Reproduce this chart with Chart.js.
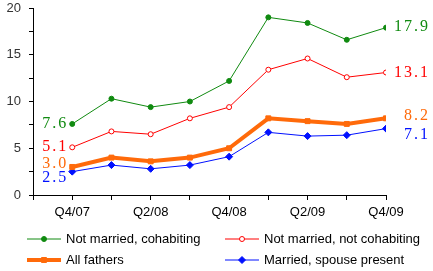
<!DOCTYPE html>
<html>
<head>
<meta charset="utf-8">
<script src="https://cdn.jsdelivr.net/npm/chart.js@4"></script>
<style>
  html, body { margin:0; padding:0; background:#fff; }
  #wrap { width:433px; height:271px; position:relative; }
</style>
</head>
<body>
<div id="wrap"><canvas id="chart"></canvas></div>
<script>
const quarters = ['Q4/07','Q1/08','Q2/08','Q3/08','Q4/08','Q1/09','Q2/09','Q3/09','Q4/09'];
const cohabiting = [7.6, 10.3, 9.4, 10.0, 12.2, 19.0, 18.4, 16.6, 17.9];
const notCohabiting = [5.1, 6.8, 6.5, 8.2, 9.4, 13.4, 14.6, 12.6, 13.1];
const allFathers = [3.0, 4.0, 3.6, 4.0, 5.0, 8.2, 7.9, 7.6, 8.2];
const married = [2.5, 3.2, 2.8, 3.2, 4.1, 6.7, 6.3, 6.4, 7.1];
const yTicks = [0, 5, 10, 15, 20];

const GREEN = '#108a10', RED = '#ff0000', ORANGE = '#ff6a0a', BLUE = '#0010ff';

function pts(arr){ return arr.map((v,i) => ({x:i, y:v})); }

const series = [
  { label:'Not married, cohabiting', data:cohabiting, color:GREEN, width:1, style:'circle', r:2.5, fill:GREEN, dyL:0, dyR:-1, col:0, row:0 },
  { label:'Not married, not cohabiting', data:notCohabiting, color:RED, width:1, style:'circle', r:2.5, fill:'#fff', dyL:-1, dyR:0, col:1, row:0 },
  { label:'All fathers', data:allFathers, color:ORANGE, width:4, style:'rect', r:3.5, fill:ORANGE, dyL:-3, dyR:-3, col:0, row:1 },
  { label:'Married, spouse present', data:married, color:BLUE, width:1, style:'rectRot', r:3.5, fill:BLUE, dyL:6, dyR:6, col:1, row:1 }
];

const endLabels = {
  id:'endLabels',
  afterDatasetsDraw(chart){
    const ctx = chart.ctx, xs = chart.scales.x, ys = chart.scales.y;
    ctx.save();
    ctx.font = '16px "Liberation Serif", serif';
    ctx.letterSpacing = '2px';
    ctx.textBaseline = 'middle';
    series.forEach(s => {
      const first = s.data[0], last = s.data[s.data.length-1];
      ctx.fillStyle = s.color;
      ctx.textAlign = 'right';
      ctx.fillText(first.toFixed(1), xs.getPixelForValue(0) - 4, ys.getPixelForValue(first) + s.dyL);
      ctx.fillText(last.toFixed(1), 430, ys.getPixelForValue(last) + s.dyR);
    });
    ctx.restore();
  }
};

const customLegend = {
  id:'customLegend',
  afterDraw(chart){
    const ctx = chart.ctx;
    const colX = [27, 225], rowY = [239, 260];
    ctx.save();
    ctx.font = '13px "Liberation Sans", Arial, sans-serif';
    ctx.textBaseline = 'middle';
    ctx.textAlign = 'left';
    series.forEach(s => {
      const x0 = colX[s.col], y = rowY[s.row];
      ctx.strokeStyle = s.color;
      ctx.lineWidth = s.width;
      ctx.beginPath();
      ctx.moveTo(x0, y);
      ctx.lineTo(x0 + 34, y);
      ctx.stroke();
      ctx.fillStyle = s.fill;
      ctx.lineWidth = 1;
      Chart.helpers.drawPoint(ctx, { pointStyle:s.style, radius:s.r, rotation:0, borderWidth:1 }, x0 + 17, y);
      ctx.fillStyle = '#000';
      ctx.fillText(s.label, x0 + 39, y);
    });
    ctx.restore();
  }
};

new Chart(document.getElementById('chart'), {
  type:'line',
  data:{
    datasets: series.map(s => ({
      label:s.label,
      data:pts(s.data),
      borderColor:s.color,
      borderWidth:s.width,
      pointStyle:s.style,
      pointRadius:s.r,
      pointBackgroundColor:s.fill,
      pointBorderColor:s.color,
      pointBorderWidth:1,
      tension:0
    }))
  },
  options:{
    responsive:true,
    maintainAspectRatio:false,
    animation:false,
    layout:{ padding:{ top:8, right:47, left:0, bottom:0 } },
    plugins:{ legend:{ display:false }, tooltip:{ enabled:false } },
    scales:{
      x:{
        type:'linear', min:-1, max:8,
        border:{ color:'#000', width:1 },
        grid:{ drawOnChartArea:false, color:'#000', tickLength:5 },
        ticks:{
          stepSize:1, autoSkip:false, maxRotation:0, padding:5,
          color:'#000', font:{ family:'"Liberation Sans", Arial, sans-serif', size:13 },
          callback:(v) => (v >= 0 && v % 2 === 0) ? quarters[v] : ''
        },
        afterFit(scale){ scale.height = 76; scale.paddingLeft = 0; scale.paddingRight = 0; }
      },
      y:{
        min:0, max:20,
        border:{ color:'#000', width:1 },
        grid:{ drawOnChartArea:false, color:'#000', tickLength:4 },
        ticks:{
          stepSize:2.5, padding:8,
          color:'#333', font:{ family:'"Liberation Sans", Arial, sans-serif', size:13 },
          callback:(v) => yTicks.includes(v) ? String(v) : ''
        },
        afterFit(scale){ scale.width = 33; scale.paddingTop = 0; scale.paddingBottom = 0; }
      }
    }
  },
  plugins:[endLabels, customLegend]
});
</script>
</body>
</html>
